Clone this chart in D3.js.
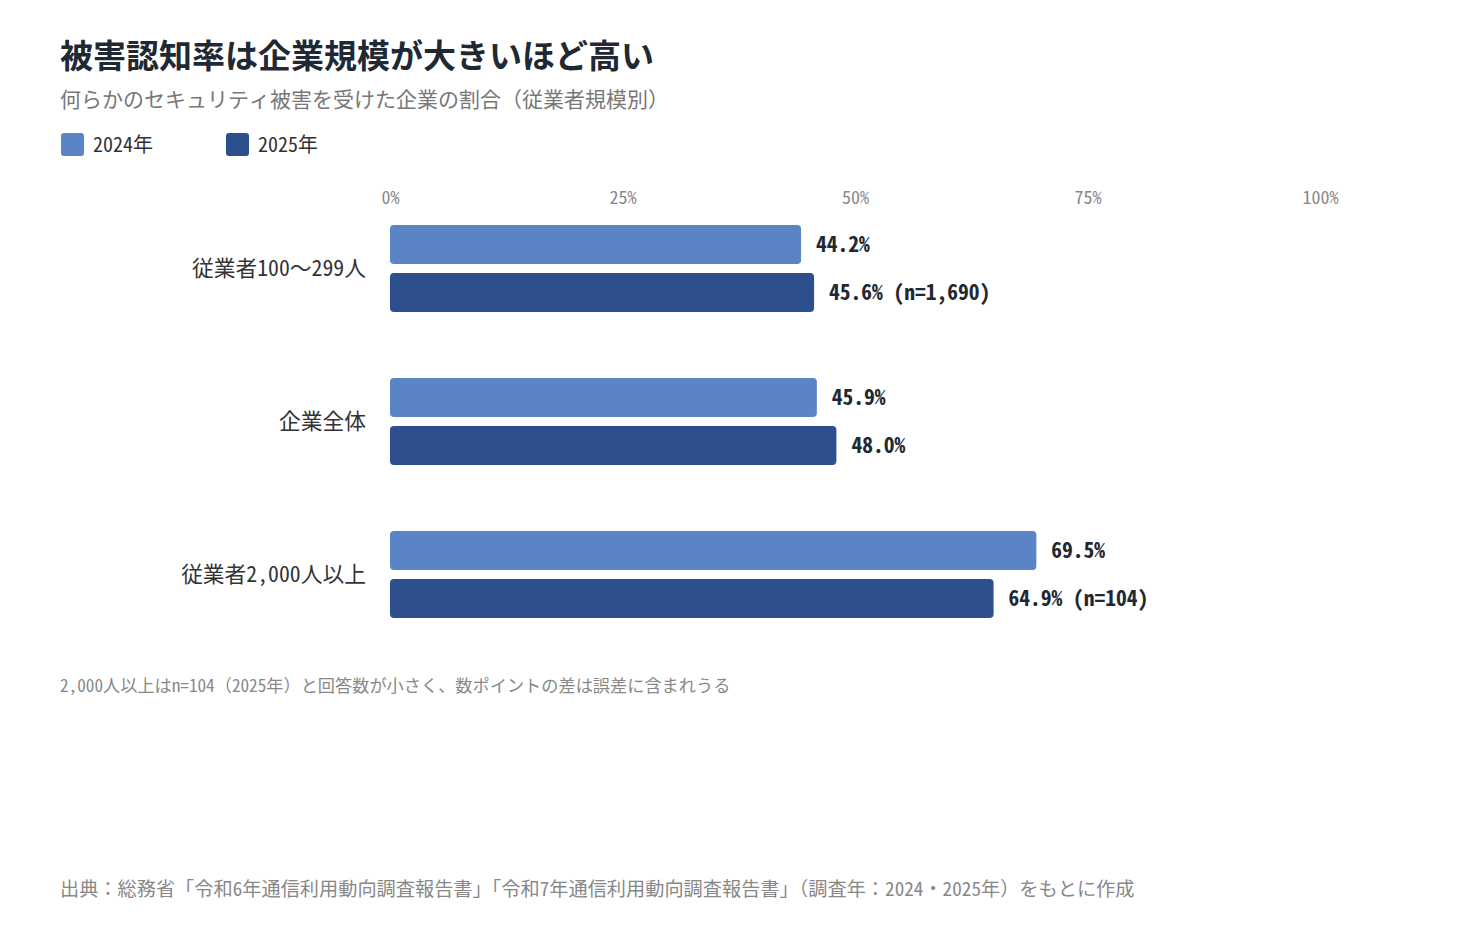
<!DOCTYPE html>
<html><head><meta charset="utf-8">
<script src="https://cdn.jsdelivr.net/npm/d3@7"></script>
<style>html,body{margin:0;padding:0;background:#fff;}</style>
</head>
<body>
<svg id="chart" width="1470" height="930"></svg>
<script>
const title = "被害認知率は企業規模が大きいほど高い";
const subtitle = "何らかのセキュリティ被害を受けた企業の割合（従業者規模別）";
const seriesNames = ["2024年", "2025年"];
const seriesColors = ["#5b84c7", "#2d4f8e"];
const categories = ["従業者100〜299人", "企業全体", "従業者2,000人以上"];
const values2024 = [44.2, 45.9, 69.5];
const values2025 = [45.6, 48.0, 64.9];
const sampleNotes2025 = [" (n=1,690)", "", " (n=104)"];
const tickValues = [0, 25, 50, 75, 100];
const footnote = "2,000人以上はn=104（2025年）と回答数が小さく、数ポイントの差は誤差に含まれうる";
const source = "出典：総務省「令和6年通信利用動向調査報告書」「令和7年通信利用動向調査報告書」（調査年：2024・2025年）をもとに作成";

const FONT = '"Noto Sans Mono CJK JP"';
const svg = d3.select("#chart");
const T = (sel) => sel.style("font-family", FONT);

T(svg.append("text")).attr("x", 60).attr("y", 68)
  .attr("font-size", 33).attr("font-weight", 700).attr("fill", "#1f2933").text(title);
T(svg.append("text")).attr("x", 60).attr("y", 106.5)
  .attr("font-size", 21).attr("fill", "#777").text(subtitle);

const legendX = [61, 226];
seriesNames.forEach((s, i) => {
  svg.append("rect").attr("x", legendX[i]).attr("y", 133).attr("width", 23).attr("height", 23)
    .attr("rx", 3).attr("fill", seriesColors[i]);
  T(svg.append("text")).attr("x", legendX[i] + 32).attr("y", 152)
    .attr("font-size", 20).attr("fill", "#333").text(s);
});

const x = d3.scaleLinear().domain([0, 100]).range([390, 1320]);
const y0 = d3.scaleBand().domain(categories).range([210, 669]).paddingInner(0).paddingOuter(0);
const bandH = 39, gap = 9;

const axis = d3.axisTop(x).tickValues(tickValues).tickFormat(d => d + "%").tickSize(0).tickPadding(0);
const ag = svg.append("g").attr("transform", "translate(0,204)").call(axis);
ag.select(".domain").remove();
ag.attr("font-family", null).attr("font-size", null);
ag.selectAll("text").attr("font-size", 18).attr("fill", "#888").attr("dy", 0).style("font-family", FONT);

const data = categories.map((c, i) => ({c, v: [values2024[i], values2025[i]], note: sampleNotes2025[i]}));

const groups = svg.append("g").selectAll("g").data(data).join("g")
  .attr("transform", d => `translate(0,${y0(d.c) + 15})`);

T(groups.append("text")).attr("x", 366).attr("y", bandH + gap / 2).attr("dy", "0.36em")
  .attr("text-anchor", "end").attr("font-size", 21.75).attr("fill", "#333").text(d => d.c);

groups.each(function(d) {
  const g = d3.select(this);
  d.v.forEach((v, j) => {
    const yy = j * (bandH + gap);
    g.append("rect").attr("x", x(0)).attr("y", yy).attr("width", x(v) - x(0)).attr("height", bandH)
      .attr("rx", 4).attr("fill", seriesColors[j]);
    T(g.append("text")).attr("x", x(v) + 15).attr("y", yy + bandH / 2).attr("dy", "0.36em")
      .attr("font-size", 21.5).attr("font-weight", 700).attr("fill", "#1f2933")
      .text(v.toFixed(1) + "%" + (j === 1 ? d.note : ""));
  });
});

T(svg.append("text")).attr("x", 60).attr("y", 692).attr("font-size", 17.2).attr("fill", "#888").text(footnote);
T(svg.append("text")).attr("x", 60).attr("y", 896).attr("font-size", 19.2).attr("fill", "#888").text(source);
</script>
</body></html>
